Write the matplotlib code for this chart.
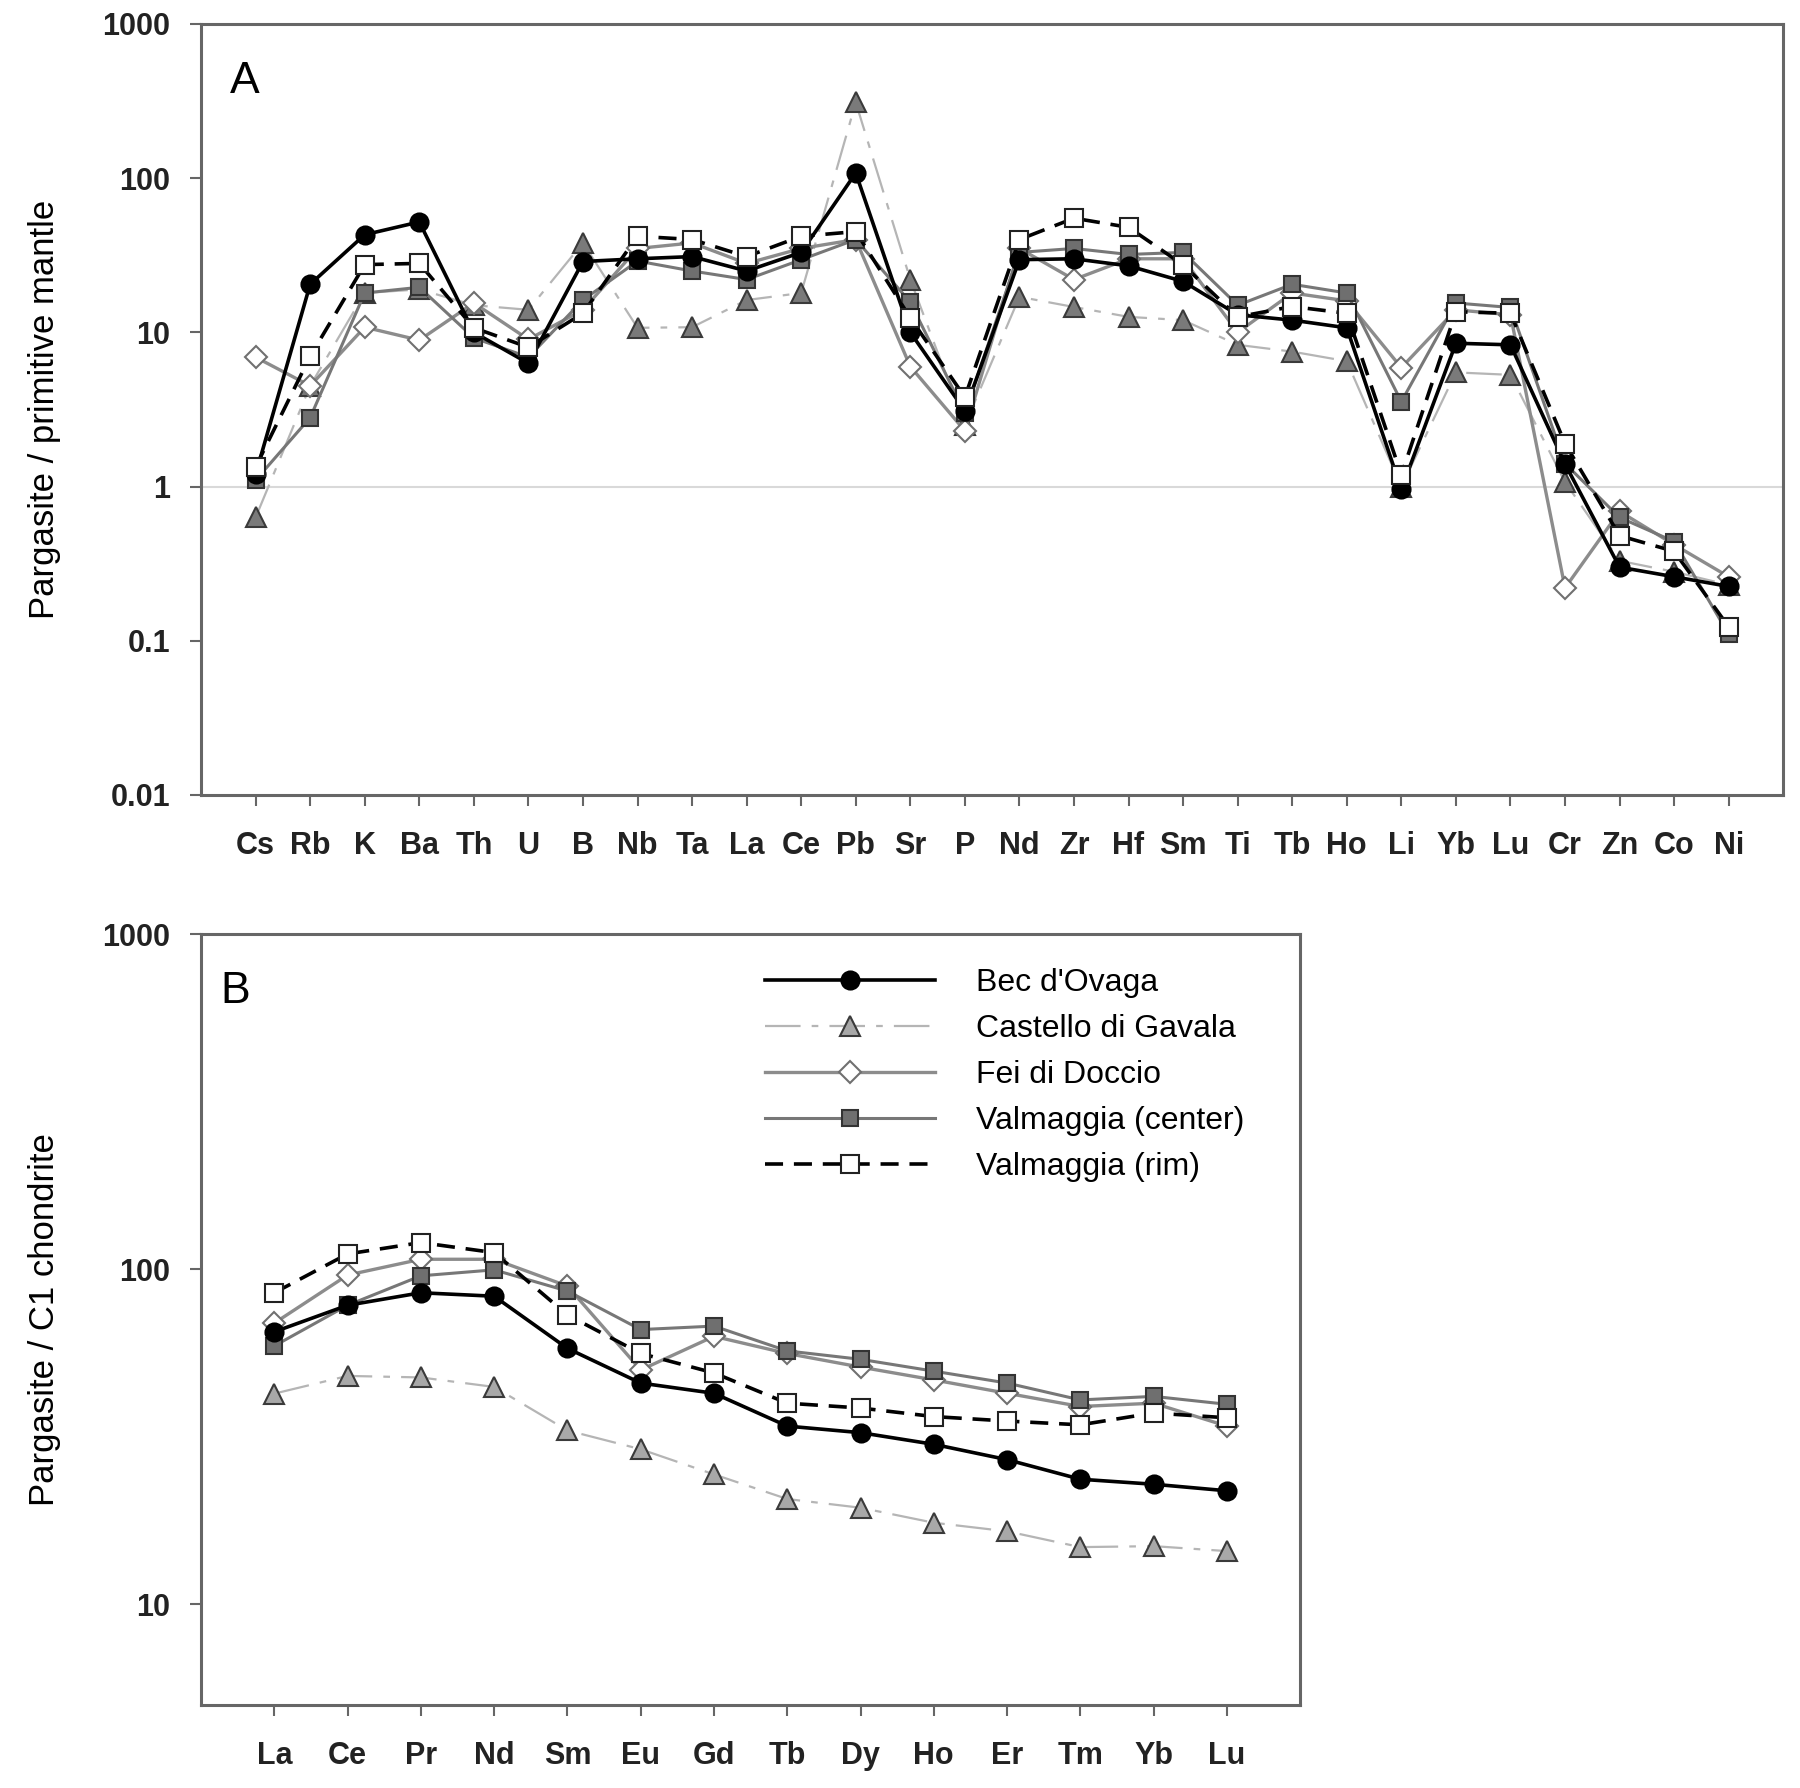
import matplotlib
matplotlib.use("Agg")
import matplotlib.pyplot as plt
from matplotlib.ticker import FixedLocator, NullLocator, FuncFormatter

plt.rcParams['font.family'] = ['Liberation Sans', 'DejaVu Sans']

# --- panel A: primitive-mantle normalised ---
elems_a = ["Cs", "Rb", "K", "Ba", "Th", "U", "B", "Nb", "Ta", "La", "Ce", "Pb", "Sr", "P",
           "Nd", "Zr", "Hf", "Sm", "Ti", "Tb", "Ho", "Li", "Yb", "Lu", "Cr", "Zn", "Co", "Ni"]
bec_a = [1.2, 20.5, 43, 52, 10, 6.3, 28.8, 30, 31, 25, 33, 108, 10, 3.1,
         29.6, 30, 27, 21.4, 13, 12, 10.7, 0.96, 8.5, 8.3, 1.4, 0.30, 0.26, 0.225]
cast_a = [0.63, 4.5, 18, 19, 15, 14, 38, 10.7, 10.8, 16.2, 18, 310, 22, 2.5,
          17, 14.6, 12.6, 12, 8.3, 7.5, 6.5, 1.0, 5.5, 5.3, 1.07, 0.33, 0.28, 0.23]
fei_a = [6.9, 4.5, 10.8, 8.9, 15.5, 9, 14, 35, 38, 28, 35, 40, 6, 2.3,
         35, 22, 30, 30, 10, 18, 16, 5.9, 14, 13, 0.22, 0.69, 0.42, 0.26]
vcen_a = [1.1, 2.8, 18, 19.6, 9.2, 6.9, 16.2, 29, 25, 22, 29.6, 40, 15.7, 3.0,
          33, 35, 32, 33, 15, 20.5, 18, 3.55, 15.5, 14.5, 1.41, 0.63, 0.44, 0.11]
vrim_a = [1.34, 7, 27.5, 28, 10.7, 8, 13.3, 42, 40, 31, 42, 45, 12.4, 3.8,
          40, 55, 48, 27.4, 12.6, 14.7, 13.3, 1.19, 13.6, 13.3, 1.9, 0.48, 0.38, 0.123]

# --- panel B: C1 chondrite normalised REE ---
elems_b = ["La", "Ce", "Pr", "Nd", "Sm", "Eu", "Gd", "Tb", "Dy", "Ho", "Er", "Tm", "Yb", "Lu"]
bec_b = [65, 78, 85, 83, 58, 45.7, 42.6, 34, 32.5, 30, 27, 23.6, 22.8, 21.8]
cast_b = [42.5, 48, 47.5, 44.5, 33, 29, 24.4, 20.6, 19.4, 17.5, 16.5, 14.8, 14.9, 14.4]
fei_b = [69, 96, 107, 107, 89, 50, 63, 56, 51, 46.7, 42.6, 38.9, 39.8, 34]
vcen_b = [59, 78, 95.5, 99.5, 86, 66, 67.6, 57, 53.8, 49.6, 45.7, 40.7, 41.7, 39.5]
vrim_b = [85, 111, 120, 112, 73, 56, 49, 39.8, 38.5, 36.3, 35.2, 34.3, 37.2, 36]

names = ["Bec d'Ovaga", "Castello di Gavala", "Fei di Doccio",
         "Valmaggia (center)", "Valmaggia (rim)"]

styles = {
    "Bec d'Ovaga": dict(color="black", lw=2.6, marker="o", ms=13, mfc="black", mec="black", mew=1.5),
    "Castello di Gavala": dict(color="#b5b5b5", lw=1.6, dashes=(16, 5, 3, 5), marker="^", ms=14,
                               mfc="#7a7a7a", mec="#3a3a3a", mew=1.5),
    "Fei di Doccio": dict(color="#8c8c8c", lw=2.4, marker="D", ms=11, mfc="white", mec="#707070", mew=1.5),
    "Valmaggia (center)": dict(color="#777777", lw=2.2, marker="s", ms=12, mfc="#6f6f6f", mec="#333333", mew=1.5),
    "Valmaggia (rim)": dict(color="black", lw=2.6, dashes=(5, 3), marker="s", ms=13, mfc="white", mec="#222222", mew=1.5),
}
draw_order = ["Castello di Gavala", "Fei di Doccio", "Valmaggia (center)", "Bec d'Ovaga", "Valmaggia (rim)"]

fig = plt.figure(figsize=(18, 17.88), dpi=100)
axA = fig.add_axes([0.1117, 0.5554, 0.879, 0.4312])
axB = fig.add_axes([0.1117, 0.0464, 0.6106, 0.4312])

fmt = FuncFormatter(lambda v, p: "%g" % v)


def style_axis(ax, labels, ylim, yticks, ylabel):
    ax.set_yscale("log")
    ax.set_ylim(*ylim)
    ax.set_xlim(-1, len(labels))
    ax.set_xticks(range(len(labels)))
    ax.set_xticklabels(labels)
    ax.yaxis.set_major_locator(FixedLocator(yticks))
    ax.yaxis.set_major_formatter(fmt)
    ax.yaxis.set_minor_locator(NullLocator())
    for s in ax.spines.values():
        s.set_color("#666666")
        s.set_linewidth(2.2)
    ax.tick_params(axis="both", direction="out", length=8, width=1.5, color="#666666",
                   labelsize=22)
    ax.tick_params(axis="x", pad=18)
    ax.tick_params(axis="y", pad=14)
    for t in ax.get_xticklabels() + ax.get_yticklabels():
        t.set_fontweight("bold")
        t.set_color("#222222")
    ax.set_ylabel(ylabel, fontsize=25, labelpad=30)


style_axis(axA, elems_a, (0.01, 1000), [0.01, 0.1, 1, 10, 100, 1000], "Pargasite / primitive mantle")
style_axis(axB, elems_b, (5, 1000), [10, 100, 1000], "Pargasite / C1 chondrite")

axA.axhline(1, color="#d9d9d9", lw=1.5, zorder=0)

data_a = dict(zip(names, [bec_a, cast_a, fei_a, vcen_a, vrim_a]))
data_b = dict(zip(names, [bec_b, cast_b, fei_b, vcen_b, vrim_b]))

handles = {}
for n in draw_order:
    st = dict(styles[n])
    dashes = st.pop("dashes", None)
    la, = axA.plot(range(len(elems_a)), data_a[n], **st)
    if n == "Castello di Gavala":
        st["mfc"] = "#a8a8a8"
    lb, = axB.plot(range(len(elems_b)), data_b[n], **st)
    if dashes is not None:
        la.set_dashes(dashes)
        lb.set_dashes(dashes)
    handles[n] = lb

axA.text(0.018, 0.925, "A", transform=axA.transAxes, fontsize=32, va="center")
axB.text(0.018, 0.925, "B", transform=axB.transAxes, fontsize=32, va="center")

axB.legend([handles[n] for n in names], names, loc="upper left", bbox_to_anchor=(0.493, 0.985),
           frameon=False, fontsize=23, handlelength=5.3, handletextpad=1.3, labelspacing=0.5,
           borderpad=0.2)

fig.savefig("out.png", dpi=100)
